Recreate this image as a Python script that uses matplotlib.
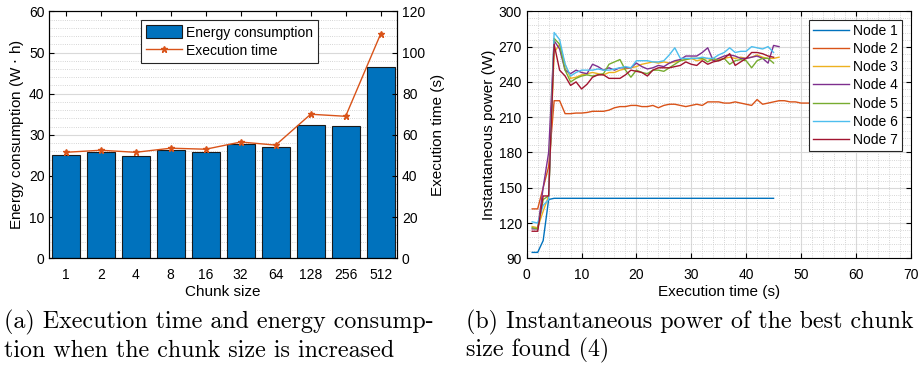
import matplotlib.pyplot as plt
import numpy as np

plt.rcParams['font.family'] = ['Liberation Sans', 'DejaVu Sans']
plt.rcParams['font.size'] = 10

# (a) chunk size sweep
chunk_sizes = ['1', '2', '4', '8', '16', '32', '64', '128', '256', '512']
energy_wh = [25.0, 25.8, 24.9, 26.2, 25.8, 27.8, 27.1, 32.3, 32.2, 46.5]
exec_time_s = [51.5, 52.5, 51.5, 53.5, 53.0, 56.5, 55.0, 70.0, 69.0, 109.0]

# (b) instantaneous power per node, sampled every second
node1 = [95, 95, 105, 140, 141] + [141] * 40
node2 = [132, 132, 150, 168, 224, 224, 213, 213, 213.5, 213.5, 214, 215, 215, 215,
         216, 218, 219, 219, 220, 220, 219, 219, 220, 218, 220, 221, 221, 220, 219,
         220, 221, 220, 223, 223, 223, 222, 222, 223, 222, 221, 220, 225, 221, 222,
         223, 224, 224, 223, 223, 222, 222, 222]
node3 = [117, 116, 130, 143, 265, 272, 255, 243, 244, 246, 247, 248, 247, 246, 248,
         248, 250, 251, 252, 253, 255, 256, 257, 256, 257, 256, 257, 258, 259, 260,
         258, 259, 260, 258, 259, 260, 261, 260, 261, 260, 261, 263, 261, 260, 260, 261]
node4 = [115, 115, 150, 180, 275, 268, 250, 247, 250, 248, 247, 255, 253, 250, 252,
         250, 252, 252, 252, 256, 253, 251, 252, 254, 253, 256, 258, 259, 262, 262,
         262, 265, 269, 258, 260, 262, 263, 262, 260, 260, 261, 262, 260, 256, 271, 270]
node5 = [116, 115, 140, 143, 277, 272, 250, 240, 243, 245, 246, 245, 246, 247, 255,
         257, 259, 250, 244, 250, 248, 247, 250, 250, 249, 252, 255, 258, 259, 260,
         260, 260, 257, 260, 258, 260, 255, 258, 259, 258, 252, 258, 260, 260, 256]
node6 = [121, 120, 135, 140, 282, 276, 255, 245, 248, 250, 250, 250, 251, 250, 250,
         251, 252, 253, 252, 258, 258, 258, 257, 257, 258, 263, 269, 260, 260, 260,
         260, 261, 260, 260, 263, 265, 269, 265, 266, 266, 270, 269, 268, 270, 265]
node7 = [113, 113, 143, 143, 272, 250, 245, 237, 240, 234, 238, 244, 246, 246, 243,
         243, 243, 246, 250, 249, 248, 245, 250, 252, 252, 252, 253, 254, 257, 255,
         254, 258, 255, 257, 258, 260, 264, 254, 257, 260, 265, 265, 264, 262, 261]
nodes = [node1, node2, node3, node4, node5, node6, node7]
node_colors = ['#0072BD', '#D95319', '#EDB120', '#7E2F8E', '#77AC30', '#4DBEEE', '#A2142F']


def matlab_grid(ax):
    ax.grid(True, which='major', color='#d9d9d9', linewidth=0.8)
    ax.grid(True, which='minor', color='#c8c8c8', linestyle=':', linewidth=0.6)
    ax.set_axisbelow(True)
    ax.tick_params(which='both', direction='in', top=True)
    ax.tick_params(which='minor', length=0)


fig = plt.figure(figsize=(9.2, 3.66), dpi=100)

# ---- (a)
ax = fig.add_axes([0.0536, 0.2943, 0.378, 0.6747])
x = np.arange(1, len(chunk_sizes) + 1)
bars = ax.bar(x, energy_wh, width=0.8, color='#0072BD', edgecolor='#1a1a1a',
              linewidth=0.8, label='Energy consumption')
ax.set_xlim(0.53, 10.47)
ax.set_ylim(0, 60)
ax.set_xticks(x)
ax.set_xticklabels(chunk_sizes)
ax.set_yticks(np.arange(0, 61, 10))
ax.set_yticks(np.arange(0, 61, 2), minor=True)
ax.grid(True, axis='y', which='major', color='#d9d9d9', linewidth=0.8)
ax.grid(True, axis='y', which='minor', color='#c8c8c8', linestyle=':', linewidth=0.6)
ax.set_axisbelow(True)
ax.tick_params(which='both', direction='in', top=True)
ax.tick_params(axis='x', pad=7)
ax.tick_params(which='minor', length=0)
ax.set_xlabel('Chunk size', fontsize=11, labelpad=2)
ax.set_ylabel('Energy consumption (W $\\cdot$ h)', fontsize=11, labelpad=2)

ax2 = ax.twinx()
line, = ax2.plot(x, exec_time_s, color='#D95319', marker='*', markersize=5,
                 linewidth=1, label='Execution time')
ax2.set_ylim(0, 120)
ax2.set_yticks(np.arange(0, 121, 20))
ax2.tick_params(direction='in')
ax2.set_ylabel('Execution time (s)', fontsize=11, labelpad=4)
leg = ax2.legend([bars, line], ['Energy consumption', 'Execution time'],
                 loc='upper left', bbox_to_anchor=(0.255, 0.975), fancybox=False,
                 edgecolor='#262626', framealpha=1, borderpad=0.35,
                 handlelength=2.6, handleheight=1.1, handletextpad=0.3,
                 labelspacing=0.3, borderaxespad=0.2)
leg.get_frame().set_linewidth(0.8)

# ---- (b)
bx = fig.add_axes([0.5725, 0.2943, 0.4174, 0.6747])
for i, vals in enumerate(nodes):
    t = np.arange(1, len(vals) + 1)
    bx.plot(t, vals, color=node_colors[i], linewidth=1, label=f'Node {i + 1}')
bx.set_xlim(0, 70)
bx.set_ylim(90, 300)
bx.set_xticks(np.arange(0, 71, 10))
bx.set_xticks(np.arange(0, 71, 2), minor=True)
bx.set_yticks(np.arange(90, 301, 30))
bx.set_yticks(np.arange(90, 301, 6), minor=True)
matlab_grid(bx)
bx.tick_params(which='both', right=True)
bx.tick_params(axis='x', pad=7)
bx.set_xlabel('Execution time (s)', fontsize=11, labelpad=2)
bx.set_ylabel('Instantaneous power (W)', fontsize=11, labelpad=2)
leg2 = bx.legend(loc='upper right', fancybox=False, edgecolor='#262626',
                 framealpha=1, borderpad=0.3, handlelength=2.6,
                 handletextpad=0.3, labelspacing=0.3, borderaxespad=0.6)
leg2.get_frame().set_linewidth(0.8)

# captions
cap = dict(family='cmr10', fontsize=17.3, va='baseline')
fig.text(0.004, 0.102, '(a) Execution time and energy consump-', **cap)
fig.text(0.004, 0.025, 'tion when the chunk size is increased', **cap)
fig.text(0.507, 0.102, '(b) Instantaneous power of the best chunk', **cap)
fig.text(0.507, 0.025, 'size found (4)', **cap)

fig.savefig('out.png', dpi=100)
